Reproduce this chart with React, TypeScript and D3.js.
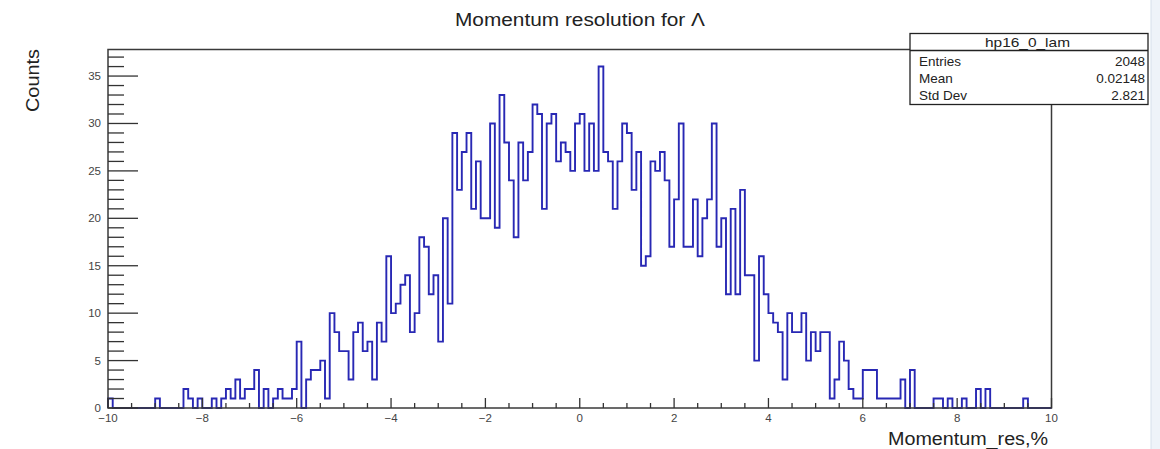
import React, { useEffect, useRef } from 'react';
import * as d3 from 'd3';

// histogram hp16_0_lam: 200 bins of 0.1 between -10 and 10
const xMin = -10;
const xMax = 10;
const binWidth = 0.1;
const counts = [
  1, 0, 0, 0, 0, 0, 0, 0, 0, 0, 1, 0, 0, 0, 0, 0, 2, 1, 0, 1,
  0, 0, 1, 0, 1, 2, 1, 3, 1, 2, 2, 4, 0, 2, 0, 1, 2, 1, 1, 2,
  7, 0, 3, 4, 4, 5, 1, 10, 8, 6, 6, 3, 8, 9, 6, 7, 3, 9, 7, 16,
  10, 11, 13, 14, 8, 10, 18, 17, 12, 14, 7, 20, 11, 29, 23, 27, 29, 21, 26, 20,
  20, 30, 19, 33, 28, 24, 18, 28, 24, 27, 32, 31, 21, 30, 31, 26, 28, 27, 25, 30,
  31, 25, 30, 25, 36, 27, 26, 21, 26, 30, 29, 23, 27, 15, 16, 26, 25, 27, 24, 17,
  22, 30, 17, 17, 22, 16, 20, 22, 30, 17, 20, 12, 21, 12, 23, 14, 14, 5, 16, 12,
  10, 9, 8, 3, 10, 8, 8, 10, 5, 8, 6, 8, 8, 1, 3, 7, 5, 2, 1, 1,
  4, 4, 4, 1, 1, 1, 1, 1, 3, 0, 4, 0, 0, 0, 0, 1, 1, 0, 1, 0,
  0, 1, 0, 0, 2, 0, 2, 0, 0, 0, 0, 0, 0, 0, 1, 0, 0, 0, 0, 0,
];
const xTicks = [-10, -8, -6, -4, -2, 0, 2, 4, 6, 8, 10];
const yTicks = [0, 5, 10, 15, 20, 25, 30, 35];
const statLabels = ['Entries', 'Mean', 'Std Dev'];
const statValues = ['2048', '0.02148', '2.821'];

const W = 1160;
const H = 449;
const FONT = '"Liberation Sans", Arial, Helvetica, sans-serif';

const App: React.FC = () => {
  const svgRef = useRef<SVGSVGElement>(null);

  useEffect(() => {
    if (!svgRef.current) return;
    const svg = d3.select(svgRef.current);
    svg.selectAll('*').remove();

    const left = 108, right = 1051.5, top = 49.5, bottom = 408;
    const yMax = d3.max(counts)! * 1.05;
    const x = d3.scaleLinear().domain([xMin, xMax]).range([left, right]);
    const y = d3.scaleLinear().domain([0, yMax]).range([bottom, top]);

    svg.append('rect').attr('width', W).attr('height', H).attr('fill', '#fff');
    // faint strip at the right edge of the screenshot
    svg.append('rect').attr('x', 1151).attr('width', 9).attr('height', H).attr('fill', '#eef3f9');
    svg.append('line').attr('x1', 1151).attr('x2', 1151).attr('y1', 0).attr('y2', H)
      .attr('stroke', '#d5e0ec').attr('stroke-width', 1);

    // Histogram outline
    let d = `M${x(xMin)},${y(0)}`;
    counts.forEach((c, i) => {
      d += `V${y(c)}H${x(xMin + (i + 1) * binWidth)}`;
    });
    d += `V${y(0)}`;
    svg.append('path')
      .attr('d', d)
      .attr('fill', 'none')
      .attr('stroke', '#2828b4')
      .attr('stroke-width', 1.9);

    // Frame
    svg.append('rect')
      .attr('x', left).attr('y', top)
      .attr('width', right - left).attr('height', bottom - top)
      .attr('fill', 'none').attr('stroke', '#3a3a3a').attr('stroke-width', 1.5);

    // X axis ticks
    const xMinor = d3.range(xMin, xMax + 0.001, 0.5);
    svg.append('g').selectAll('line').data(xMinor).enter().append('line')
      .attr('x1', v => x(v)).attr('x2', v => x(v))
      .attr('y1', bottom)
      .attr('y2', v => bottom - (Math.abs(v % 2) < 1e-6 ? 10 : 5))
      .attr('stroke', '#333').attr('stroke-width', 1.3);
    svg.append('g').selectAll('text').data(xTicks).enter().append('text')
      .attr('x', v => x(v)).attr('y', 422)
      .attr('text-anchor', 'middle')
      .style('font-family', FONT).style('font-size', '11.5px').style('fill', '#444')
      .text(v => (v < 0 ? `\u2212${-v}` : `${v}`));

    // Y axis ticks
    const yMinor = d3.range(0, Math.floor(yMax) + 1, 1);
    svg.append('g').selectAll('line').data(yMinor).enter().append('line')
      .attr('y1', v => y(v)).attr('y2', v => y(v))
      .attr('x1', left)
      .attr('x2', v => left + (v % 5 === 0 ? 30 : 16))
      .attr('stroke', '#333').attr('stroke-width', 1.3);
    svg.append('g').selectAll('text').data(yTicks).enter().append('text')
      .attr('x', 101).attr('y', v => y(v) + 4)
      .attr('text-anchor', 'end')
      .style('font-family', FONT).style('font-size', '11.5px').style('fill', '#444')
      .text(v => `${v}`);

    // Titles
    svg.append('text')
      .attr('x', 455).attr('y', 26)
      .attr('textLength', 250).attr('lengthAdjust', 'spacingAndGlyphs')
      .style('font-family', FONT).style('font-size', '18px').style('fill', '#222')
      .text('Momentum resolution for \u039B');
    svg.append('text')
      .attr('x', 888).attr('y', 445)
      .attr('textLength', 160).attr('lengthAdjust', 'spacingAndGlyphs')
      .style('font-family', FONT).style('font-size', '18px').style('fill', '#222')
      .text('Momentum_res,%');
    svg.append('text')
      .attr('transform', `translate(39, 112) rotate(-90)`)
      .attr('textLength', 63).attr('lengthAdjust', 'spacingAndGlyphs')
      .style('font-family', FONT).style('font-size', '18px').style('fill', '#222')
      .text('Counts');

    // Stats box
    const bx = 910, by = 33.5, bw = 238, bh = 71;
    const box = svg.append('g');
    box.append('rect')
      .attr('x', bx).attr('y', by).attr('width', bw).attr('height', bh)
      .attr('fill', '#fff').attr('stroke', '#222').attr('stroke-width', 1.3);
    box.append('line')
      .attr('x1', bx).attr('x2', bx + bw).attr('y1', 50.5).attr('y2', 50.5)
      .attr('stroke', '#222').attr('stroke-width', 1.3);
    box.append('text')
      .attr('x', 985).attr('y', 47)
      .attr('textLength', 85).attr('lengthAdjust', 'spacingAndGlyphs')
      .style('font-family', FONT).style('font-size', '13px').style('fill', '#222')
      .text('hp16_0_lam');
    statLabels.forEach((lab, i) => {
      box.append('text')
        .attr('x', bx + 9).attr('y', 65.5 + i * 17)
        .style('font-family', FONT).style('font-size', '13.5px').style('fill', '#222')
        .text(lab);
      box.append('text')
        .attr('x', bx + bw - 3).attr('y', 65.5 + i * 17)
        .attr('text-anchor', 'end')
        .style('font-family', FONT).style('font-size', '13.5px').style('fill', '#222')
        .text(statValues[i]);
    });
  }, []);

  return (
    <svg
      ref={svgRef}
      width={W}
      height={H}
      style={{ position: 'absolute', left: 0, top: 0, display: 'block' }}
    />
  );
};

export default App;
